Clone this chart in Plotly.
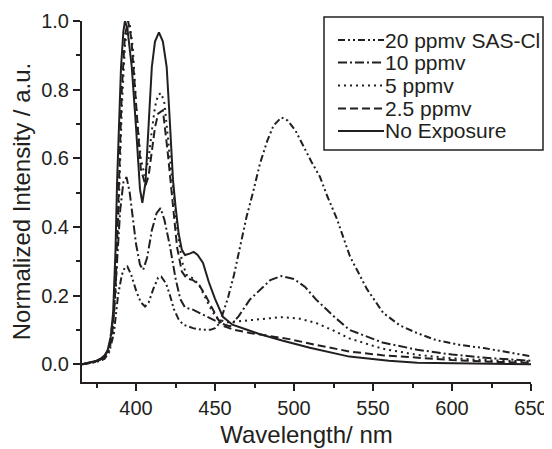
import plotly.graph_objects as go

# ---------------- data ----------------
wl_20 = [366, 375, 380, 383, 386, 388.6, 391, 393, 394.5, 397, 400, 403, 405.7, 408, 411, 414, 416, 419,
         421.5, 424, 427, 430, 436, 442, 447, 450, 453, 458, 462, 466, 470, 474, 478.5, 483, 487, 492,
         496, 501, 506, 511, 516.4, 521, 527, 535.4, 546, 556.5, 567, 577.6, 590, 605, 620, 635, 650]
int_20 = [0.0, 0.006, 0.015, 0.035, 0.09, 0.2, 0.26, 0.283, 0.285, 0.26, 0.215, 0.18, 0.168, 0.18, 0.22,
          0.252, 0.255, 0.235, 0.2, 0.16, 0.13, 0.115, 0.105, 0.1, 0.1, 0.105, 0.12, 0.19, 0.26, 0.343,
          0.43, 0.5, 0.585, 0.65, 0.695, 0.719, 0.71, 0.68, 0.634, 0.59, 0.546, 0.49, 0.425, 0.314, 0.22,
          0.149, 0.113, 0.091, 0.07, 0.056, 0.047, 0.035, 0.023]

wl_10 = [366, 375, 380, 383, 386, 388, 390, 392, 394, 396, 398, 400, 402.5, 404.5, 407, 410, 413, 415.5,
         418, 421.5, 425, 428, 431, 436, 444.7, 453, 459.5, 465, 472, 478.5, 485, 492, 500, 507, 514,
         525, 535, 556, 578, 600, 625, 650]
int_10 = [0.0, 0.008, 0.02, 0.05, 0.15, 0.3, 0.45, 0.53, 0.545, 0.5, 0.42, 0.35, 0.29, 0.275, 0.31, 0.39,
          0.44, 0.455, 0.42, 0.343, 0.25, 0.19, 0.165, 0.159, 0.139, 0.12, 0.11, 0.14, 0.188, 0.217, 0.245,
          0.257, 0.248, 0.225, 0.188, 0.14, 0.10, 0.063, 0.042, 0.028, 0.017, 0.01]

wl_5 = [366, 375, 380, 383, 385, 387, 389, 391, 393, 394.5, 396, 398, 400.5, 403, 405.5, 408, 410, 412,
        414, 416, 418, 420, 423, 426, 429, 432, 436, 440, 444, 448, 452, 458, 465, 472, 480, 492, 503,
        514, 525, 535, 556, 578, 600, 625, 650]
int_5 = [0.0, 0.008, 0.02, 0.04, 0.08, 0.2, 0.45, 0.75, 0.93, 0.98, 0.99, 0.92, 0.72, 0.6, 0.55, 0.6,
         0.68, 0.75, 0.785, 0.79, 0.76, 0.66, 0.53, 0.4, 0.3, 0.26, 0.25, 0.23, 0.19, 0.155, 0.13, 0.122,
         0.125, 0.128, 0.133, 0.137, 0.133, 0.12, 0.098, 0.075, 0.045, 0.027, 0.017, 0.011, 0.008]

wl_25 = [366, 375, 380, 383, 385, 387, 389, 391, 393, 395, 397, 399, 401, 403, 406, 408, 410, 412, 414,
         417, 420, 423, 426, 429, 432, 436, 440, 444, 448, 452, 456, 462, 472, 485, 497, 515, 535, 556,
         578, 600, 625, 650]
int_25 = [0.0, 0.009, 0.022, 0.045, 0.09, 0.22, 0.5, 0.8, 0.96, 1.0, 0.95, 0.82, 0.68, 0.57, 0.52, 0.55,
          0.62, 0.69, 0.73, 0.74, 0.62, 0.47, 0.34, 0.27, 0.25, 0.245, 0.23, 0.2, 0.165, 0.13, 0.11, 0.1,
          0.091, 0.082, 0.073, 0.055, 0.037, 0.026, 0.018, 0.012, 0.007, 0.004]

wl_0 = [366, 370, 375, 378, 380, 382, 384, 385.5, 387, 388, 390.5, 392, 393, 394.5, 397.3, 400, 402.5,
        404, 406, 408, 410, 412, 414.5, 417, 419.4, 421, 423.4, 425, 427, 429, 431, 434, 436.5, 439,
        442.4, 446, 450, 455, 461, 468, 478, 493, 510, 535, 560, 578, 600, 625, 650]
int_0 = [0.0, 0.004, 0.010, 0.017, 0.025, 0.04, 0.08, 0.15, 0.33, 0.53, 0.866, 0.97, 1.0, 0.98, 0.866,
         0.69, 0.51, 0.47, 0.53, 0.70, 0.866, 0.94, 0.967, 0.94, 0.866, 0.74, 0.537, 0.46, 0.38, 0.333,
         0.318, 0.322, 0.327, 0.318, 0.295, 0.24, 0.19, 0.138, 0.115, 0.104, 0.088, 0.068, 0.048, 0.022,
         0.01, 0.004, 0.002, 0.001, 0.0]

series_names = ["20 ppmv SAS-Cl", "10 ppmv", "5 ppmv", "2.5 ppmv", "No Exposure"]
series_x = [wl_20, wl_10, wl_5, wl_25, wl_0]
series_y = [int_20, int_10, int_5, int_25, int_0]

x_tick_vals = [400, 450, 500, 550, 600, 650]
y_tick_vals = [0.0, 0.2, 0.4, 0.6, 0.8, 1.0]
y_tick_text = ["0.0", "0.2", "0.4", "0.6", "0.8", "1.0"]

# ---------------- styles ----------------
dashes = ["7px,3px,2px,3px,2px,3px", "9px,3px,2px,3px", "2px,4px", "8px,4px", "solid"]
INK = "#231f20"
FONT = "Arial, Liberation Sans, sans-serif"

# the page adds an 8px body margin, so the figure is drawn 8px smaller and offset
OFF = 8
W, H = 552 - OFF, 449 - OFF
ML, MR, MT, MB = 74, 21, 13, 67
PW, PH = W - ML - MR, H - MT - MB

fig = go.Figure()
for name, xs, ys, d in zip(series_names, series_x, series_y, dashes):
    fig.add_trace(go.Scatter(x=xs, y=ys, mode="lines", name=name, showlegend=False,
                             cliponaxis=False,
                             line=dict(color=INK, width=2, dash=d)))

# ---------------- hand-made legend box (page pixel positions) ----------------
def px(x):
    return (x - OFF - ML) / PW

def py(y):
    return (H - MB - (y - OFF)) / PH

shapes = [dict(type="rect", xref="paper", yref="paper", x0=px(324), x1=px(543), y0=py(150), y1=py(17),
               line=dict(color=INK, width=1.5), fillcolor="white", layer="above")]
annotations = []
row_y = [40, 62.5, 85.5, 108.5, 131]
for name, d, ry in zip(series_names, dashes, row_y):
    shapes.append(dict(type="line", xref="paper", yref="paper", x0=px(338), x1=px(384), y0=py(ry), y1=py(ry),
                       line=dict(color=INK, width=2, dash=d), layer="above"))
    annotations.append(dict(xref="paper", yref="paper", x=px(384), y=py(ry), xanchor="left", yanchor="middle",
                            text=name, showarrow=False, borderpad=0,
                            font=dict(size=21, color=INK, family=FONT)))

fig.update_layout(
    width=W, height=H,
    margin=dict(l=ML, r=MR, t=MT, b=MB, autoexpand=False),
    paper_bgcolor="white", plot_bgcolor="white",
    font=dict(family=FONT, color=INK, size=20),
    shapes=shapes, annotations=annotations,
    showlegend=False,
)
fig.update_xaxes(range=[365.8, 650], showgrid=False, zeroline=False, showline=True, linecolor=INK,
                 linewidth=2, ticks="outside", ticklen=7, tickwidth=1.5, tickcolor=INK,
                 tickvals=x_tick_vals, tickfont=dict(size=20), automargin=False,
                 minor=dict(ticks="outside", ticklen=4, tickwidth=1.5, tickcolor=INK, dtick=25, tick0=0),
                 title=dict(text="Wavelength/ nm", font=dict(size=24), standoff=8))
fig.update_yaxes(range=[-0.052, 1.0], showgrid=False, zeroline=False, showline=True, linecolor=INK,
                 linewidth=2, ticks="outside", ticklen=7, tickwidth=1.5, tickcolor=INK,
                 tickvals=y_tick_vals, ticktext=y_tick_text, tickfont=dict(size=20), automargin=False,
                 minor=dict(ticks="outside", ticklen=4, tickwidth=1.5, tickcolor=INK, dtick=0.1, tick0=0),
                 title=dict(text="Normalized Intensity / a.u.", font=dict(size=24), standoff=8))

fig.write_html("out.html")
